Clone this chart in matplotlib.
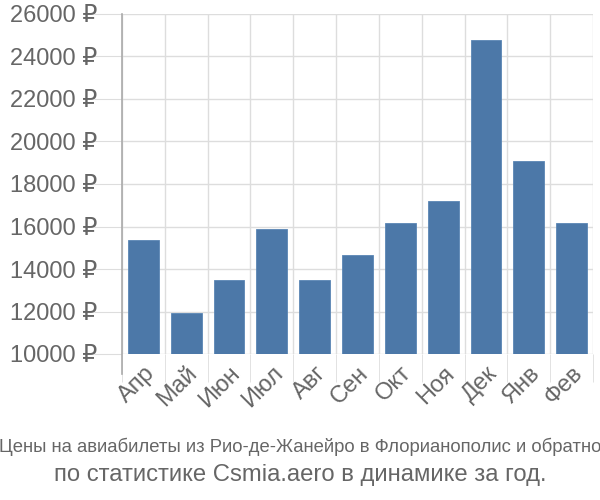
import matplotlib
matplotlib.use("Agg")
import matplotlib.pyplot as plt
from matplotlib.ticker import FuncFormatter
import numpy as np

months = ["Апр", "Май", "Июн", "Июл", "Авг", "Сен", "Окт", "Ноя", "Дек", "Янв", "Фев"]
prices = [15350, 11940, 13490, 15900, 13490, 14680, 16180, 17190, 24790, 19060, 16180]
yticks = [10000, 12000, 14000, 16000, 18000, 20000, 22000, 24000, 26000]
title1 = "Цены на авиабилеты из Рио-де-Жанейро в Флорианополис и обратно"
title2 = "по статистике Csmia.aero в динамике за год."

fam = ["Liberation Sans", "DejaVu Sans"]
plt.rcParams["font.family"] = fam

fig = plt.figure(figsize=(6, 5), dpi=100)
ax = fig.add_axes([122/600, 1-354/500, (593-122)/600, (354-14)/500])

x = np.arange(len(months))
ax.bar(x, prices, width=0.72, color="#4c78a8", zorder=3, edgecolor="#5a86b5", linewidth=0.6)
ax.set_xlim(-0.5, len(months)-0.5)
ax.set_ylim(10000, 26000)
ax.set_yticks(yticks)
ax.yaxis.set_major_formatter(FuncFormatter(lambda v, p: f"{int(v)} ₽"))
ax.set_xticks(x)
ax.set_xticklabels(months, rotation=45, ha="right", va="top", rotation_mode="anchor")
ax.set_xticks(np.arange(-0.5, len(months)), minor=True)

ax.grid(True, axis="y", color="#dddddd", linewidth=1, zorder=0)
ax.grid(True, axis="x", which="minor", color="#dddddd", linewidth=1, zorder=0)
ax.tick_params(axis="y", length=20, color="#dddddd", labelsize=17, labelcolor="#666666", pad=-2)
ax.tick_params(axis="x", which="major", length=0, labelsize=17, labelcolor="#666666", pad=6)
ax.tick_params(axis="x", which="minor", length=20, color="#dddddd")
for s in ["top", "right", "bottom"]:
    ax.spines[s].set_visible(False)
ax.spines["left"].set_color("#aaaaaa")
ax.spines["left"].set_linewidth(1.2)
ax.spines["left"].set_bounds(10000 - 16000*20/340, 26000)

fig.text(0.5, 1-447/500, title1, ha="center", va="center", fontsize=13.3, color="#666666",
         family=["Liberation Sans Narrow", "Liberation Sans", "DejaVu Sans"])
fig.text(0.5, 1-475/500, title2, ha="center", va="center", fontsize=17.2, color="#666666")

fig.savefig("out.png", dpi=100)
